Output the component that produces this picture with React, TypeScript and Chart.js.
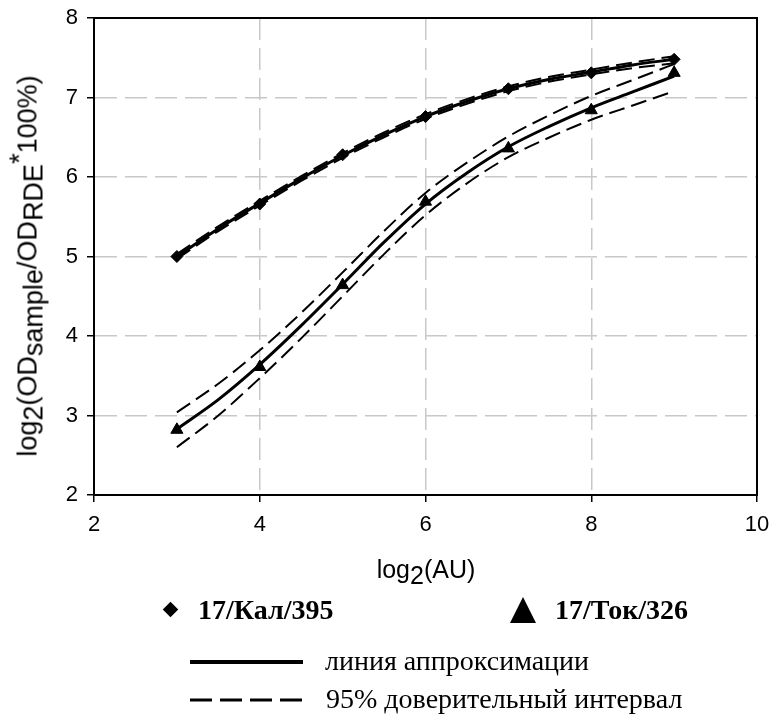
import React, { useEffect, useRef } from "react";
import { Chart, registerables } from "chart.js";

Chart.register(...registerables);

// ---- data ----
const pointX = [3, 4, 5, 6, 7, 8, 9];
const kalValues = [5.0, 5.66, 6.28, 6.76, 7.11, 7.31, 7.48];
const tokValues = [2.82, 3.61, 4.64, 5.69, 6.36, 6.84, 7.31];

const fitX = [3, 3.5, 4, 4.5, 5, 5.5, 6, 6.5, 7, 7.5, 8, 8.5, 9];
const kalFit = [5.0, 5.35, 5.67, 5.98, 6.27, 6.53, 6.76, 6.95, 7.11, 7.23, 7.32, 7.41, 7.48];
const kalUpper = [5.03, 5.38, 5.7, 6.01, 6.3, 6.56, 6.79, 6.98, 7.14, 7.26, 7.35, 7.44, 7.52];
const kalLower = [4.97, 5.32, 5.64, 5.95, 6.24, 6.5, 6.73, 6.92, 7.08, 7.2, 7.29, 7.37, 7.43];
const tokFit = [2.83, 3.2, 3.64, 4.13, 4.65, 5.18, 5.66, 6.05, 6.38, 6.64, 6.87, 7.07, 7.27];
const tokUpper = [3.04, 3.4, 3.82, 4.29, 4.8, 5.32, 5.8, 6.18, 6.51, 6.78, 7.02, 7.22, 7.42];
const tokLower = [2.6, 3.0, 3.47, 3.97, 4.5, 5.03, 5.52, 5.92, 6.25, 6.5, 6.72, 6.9, 7.08];

const xMin = 2;
const xMax = 10;
const xStep = 2;
const yMin = 2;
const yMax = 8;
const yStep = 1;

const seriesLabels = ["17/Кал/395", "17/Ток/326"];
const lineLabels = ["линия аппроксимации", "95% доверительный интервал"];
const xTitleParts = ["log", "2", "(AU)"];
const yTitleParts = ["log", "2", "(OD", "sample", "/OD", "RDE", "*", "100%)"];

function toPoints(xs: number[], ys: number[]) {
  return xs.map((x, i) => ({ x, y: ys[i] }));
}

const framePlugin = {
  id: "frame",
  afterDraw(chart: any) {
    const { ctx, chartArea } = chart;
    ctx.save();
    ctx.setLineDash([]);
    ctx.strokeStyle = "#000";
    ctx.lineWidth = 2;
    ctx.strokeRect(chartArea.left, chartArea.top, chartArea.right - chartArea.left, chartArea.bottom - chartArea.top);
    ctx.restore();
  },
};

const SANS = "'Liberation Sans', Arial, sans-serif";
const SERIF = "'Liberation Serif', 'Times New Roman', serif";

export default function App() {
  const canvasRef = useRef<HTMLCanvasElement | null>(null);

  useEffect(() => {
    const canvas = canvasRef.current;
    if (!canvas) return;
    const fitLine = (data: number[], dashed: boolean, label: string) => ({
      label,
      data: toPoints(fitX, data),
      borderColor: "#000",
      backgroundColor: "#000",
      borderWidth: dashed ? 2 : 3,
      borderDash: dashed ? [16, 7] : [],
      pointRadius: 0,
      cubicInterpolationMode: "monotone" as const,
      showLine: true,
      fill: false,
    });
    const chart = new Chart(canvas, {
      type: "line",
      data: {
        datasets: [
          {
            label: seriesLabels[0],
            data: toPoints(pointX, kalValues),
            showLine: false,
            pointStyle: "rectRot",
            pointRadius: 6,
            backgroundColor: "#000",
            borderColor: "#000",
          },
          {
            label: seriesLabels[1],
            data: toPoints(pointX, tokValues),
            showLine: false,
            pointStyle: "triangle",
            pointRadius: 7,
            backgroundColor: "#000",
            borderColor: "#000",
          },
          fitLine(kalFit, false, "kal fit"),
          fitLine(kalUpper, true, "kal upper"),
          fitLine(kalLower, true, "kal lower"),
          fitLine(tokFit, false, "tok fit"),
          fitLine(tokUpper, true, "tok upper"),
          fitLine(tokLower, true, "tok lower"),
        ],
      },
      options: {
        responsive: false,
        animation: false,
        devicePixelRatio: 1,
        layout: { padding: { top: 18, right: 14, left: 0, bottom: 0 } },
        plugins: { legend: { display: false }, tooltip: { enabled: false }, title: { display: false } },
        scales: {
          x: {
            type: "linear",
            min: xMin,
            max: xMax,
            ticks: { stepSize: xStep, color: "#000", font: { family: SANS, size: 22 }, padding: 10, maxRotation: 0 },
            grid: { color: "#c8c8c8", lineWidth: 1.5, tickColor: "#000", tickLength: 7, tickWidth: 1.5 },
            border: { dash: [22, 8], color: "#000", width: 2 },
            afterFit: (s: any) => {
              s.height = 223;
              s.paddingLeft = 0;
              s.paddingRight = 0;
            },
          },
          y: {
            type: "linear",
            min: yMin,
            max: yMax,
            ticks: { stepSize: yStep, color: "#000", font: { family: SANS, size: 22 }, padding: 9 },
            grid: { color: "#c8c8c8", lineWidth: 1.5, tickColor: "#000", tickLength: 7, tickWidth: 1.5 },
            border: { dash: [22, 8], color: "#000", width: 2 },
            afterFit: (s: any) => {
              s.width = 94;
              s.paddingTop = 0;
              s.paddingBottom = 0;
            },
          },
        },
      },
      plugins: [framePlugin],
    });
    return () => chart.destroy();
  }, []);

  const sub = { position: "relative" as const, top: "0.24em" };
  const sup = { position: "relative" as const, top: "-0.3em" };

  return (
    <div style={{ position: "absolute", left: 0, top: 0, width: 771, height: 718, background: "#fff", overflow: "hidden" }}>
      <canvas ref={canvasRef} width={771} height={718} style={{ position: "absolute", left: 0, top: 0 }} />

      {/* y axis title */}
      <div
        style={{
          position: "absolute",
          left: 28,
          top: 266,
          transform: "translate(-50%, -50%) rotate(-90deg)",
          whiteSpace: "nowrap",
          font: `27px ${SANS}`,
          lineHeight: "27px",
          color: "#000",
        }}
      >
        {yTitleParts[0]}
        <span style={sub}>{yTitleParts[1]}</span>
        {yTitleParts[2]}
        <span style={sub}>{yTitleParts[3]}</span>
        {yTitleParts[4]}
        <span style={sub}>{yTitleParts[5]}</span>
        <span style={sup}>{yTitleParts[6]}</span>
        {yTitleParts[7]}
      </div>

      {/* x axis title */}
      <div
        style={{
          position: "absolute",
          left: 426,
          top: 557,
          transform: "translateX(-50%)",
          whiteSpace: "nowrap",
          font: `25px ${SANS}`,
          lineHeight: "25px",
          color: "#000",
        }}
      >
        {xTitleParts[0]}
        <span style={sub}>{xTitleParts[1]}</span>
        {xTitleParts[2]}
      </div>

      {/* legend: series */}
      <div style={{ position: "absolute", left: 165, top: 604, width: 11, height: 11, background: "#000", transform: "rotate(45deg)" }} />
      <div style={{ position: "absolute", left: 198, top: 596, font: `bold 28px ${SERIF}`, lineHeight: "28px", whiteSpace: "nowrap", color: "#000" }}>
        {seriesLabels[0]}
      </div>
      <div
        style={{
          position: "absolute",
          left: 510,
          top: 597,
          width: 0,
          height: 0,
          borderLeft: "13.5px solid transparent",
          borderRight: "13.5px solid transparent",
          borderBottom: "26px solid #000",
        }}
      />
      <div style={{ position: "absolute", left: 555, top: 596, font: `bold 28px ${SERIF}`, lineHeight: "28px", whiteSpace: "nowrap", color: "#000" }}>
        {seriesLabels[1]}
      </div>

      {/* legend: lines */}
      <svg style={{ position: "absolute", left: 185, top: 650 }} width={130} height={60}>
        <line x1={5} y1={12} x2={118} y2={12} stroke="#000" strokeWidth={4} />
        <line x1={5} y1={50} x2={122} y2={50} stroke="#000" strokeWidth={3} strokeDasharray="22 8" />
      </svg>
      <div style={{ position: "absolute", left: 325, top: 647, font: `28px ${SERIF}`, lineHeight: "28px", whiteSpace: "nowrap", color: "#000" }}>
        {lineLabels[0]}
      </div>
      <div style={{ position: "absolute", left: 326, top: 685, font: `28px ${SERIF}`, lineHeight: "28px", whiteSpace: "nowrap", color: "#000" }}>
        {lineLabels[1]}
      </div>
    </div>
  );
}
